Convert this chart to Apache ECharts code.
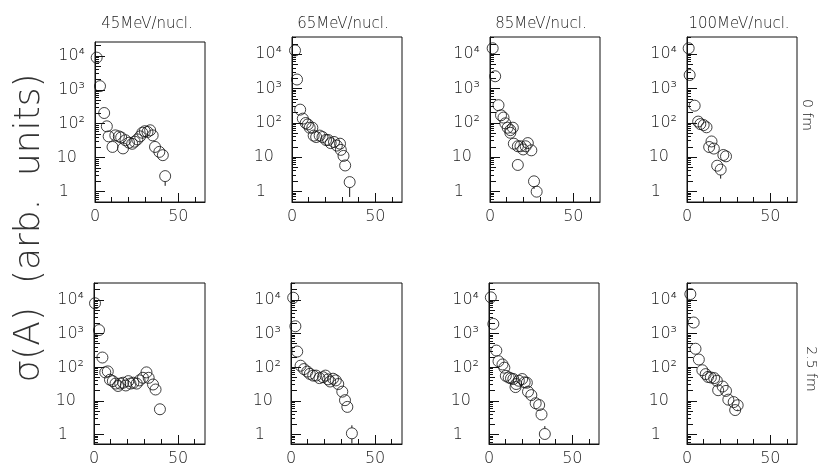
<!DOCTYPE html>
<html><head><meta charset="utf-8">
<script src="https://cdn.jsdelivr.net/npm/echarts@6/dist/echarts.min.js"></script>
<style>html,body{margin:0;padding:0;background:#fff}#c{width:819px;height:467px}</style>
</head><body><div id="c"></div>
<script>
// ---- text / categories ----
const energyTitles = ['45MeV/nucl.', '65MeV/nucl.', '85MeV/nucl.', '100MeV/nucl.'];
const impactTitles = ['0 fm', '2.5 fm'];
const yAxisTitle = 'σ(A)  (arb.  units)';
const xTickLabels = [0, 50];
const xTickValues = [10, 20, 30, 40, 50, 60];
const yTickText = {'0':'1\u2002\u2002', '1':'10\u2002', '2':'10²', '3':'10³', '4':'10⁴'};
const yTickMultipliers = [1, 2, 3, 4, 5, 6, 7, 8, 9];
const yDecadeBases = [0.1, 1, 10, 100, 1000, 10000];

// ---- data: [A, sigma] ----
const d45_0 = [[1.0,9000],[3.0,1300],[5.5,210],[7.1,85],[8.2,43],[10.5,21],[12.2,46],[14.3,43],[15.7,40],[16.8,19],[18.3,33],[20.4,28],[22.3,26],[23.8,30],[25.4,35],[27.1,43],[28.4,55],[29.9,61],[31.5,58],[33.1,65],[34.6,46],[36.0,21],[38.6,15],[40.7,12],[42.1,2.9]];
const d65_0 = [[1.8,13000],[3.0,1850],[4.9,245],[6.5,134],[8.2,100],[9.5,91],[10.6,73],[12.2,73],[13.0,43],[14.5,39],[16.6,43],[18.3,39],[20.4,32],[21.7,32],[23.2,26],[25.2,28],[26.9,22],[28.8,25],[29.3,16.5],[30.9,11],[31.9,5.8],[34.6,1.9]];
const d85_0 = [[1.6,15000],[3.1,2300],[5.1,330],[6.6,168],[8.1,144],[9.2,98],[10.6,73],[12.2,62],[12.2,52],[13.7,73],[14.3,25],[16.7,21],[16.7,6],[18.3,21],[19.9,17],[21.4,21],[22.7,26],[24.8,16],[26.4,2],[28.0,1.0]];
const d100_0 = [[1.0,15000],[1.6,2500],[4.6,320],[6.7,110],[8.0,93],[10.0,87],[11.7,75],[13.3,20],[14.7,29],[16.1,18],[18.1,5.7],[20.2,4.4],[21.8,11.7],[23.4,10.7]];
const d45_25 = [[0.6,8000],[3.0,1280],[5.0,196],[6.7,71],[8.2,76],[9.5,43],[11.2,39],[12.8,33],[14.3,28],[15.6,33],[17.3,35],[18.9,29],[20.4,39],[21.7,33],[23.4,35],[25.4,33],[27.1,41],[29.1,49],[31.2,71],[32.5,49],[35.1,31],[36.6,22],[39.2,5.7]];
const d65_25 = [[1.3,11700],[2.6,1660],[3.7,295],[5.7,112],[7.7,89],[9.7,75],[11.2,64],[13.2,57],[14.9,57],[16.9,48],[19.0,51],[20.5,57],[22.0,44],[23.3,38],[25.0,46],[26.6,41],[28.1,32],[30.5,19],[32.1,10.6],[33.5,6.7],[36.2,1.1]];
const d85_25 = [[1.1,12000],[2.6,1950],[4.4,316],[5.7,152],[8.1,122],[9.2,98],[10.1,56],[11.8,50],[13.2,47],[14.6,45],[15.9,26],[16.3,32],[17.9,40],[19.9,45],[21.4,36],[22.7,35],[23.4,19],[25.4,15],[28.0,8.6],[30.1,7.6],[31.5,4],[33.5,1.05]];
const d100_25 = [[2.0,15000],[4.0,2150],[5.1,357],[7.1,171],[9.2,82],[11.2,63],[12.6,52],[14.3,50],[16.3,48],[17.9,40],[18.7,21],[21.4,27],[23.4,20],[24.8,11],[28.0,9.3],[28.9,5.4],[30.4,7.5]];

// ---- error-bar segments: [A, sigma, bar end] ----
const e45_0 = [[42.1,2.9,1.5]];
const e65_0 = [[34.6,1.9,0.7]];
const e85_0 = [[26.4,2,1.2]];
const e100_0 = [[20.2,4.4,2.4]];
const e45_25 = [[39.2,5.7,4.0]];
const e65_25 = [[36.2,1.1,0.55],[36.2,1.1,1.9]];
const e85_25 = [[33.5,1.05,1.8]];
const e100_25 = [[30.4,7.5,5.6]];

const panelData = [d45_0, d65_0, d85_0, d100_0, d45_25, d65_25, d85_25, d100_25];
const panelErr = [e45_0, e65_0, e85_0, e100_0, e45_25, e65_25, e85_25, e100_25];

// ---- layout ----
const FONT = 'DejaVu Sans';
const INK = '#111111';
const XMAX = 66;
const layout = [
  {left:95,  top:42,  width:110, height:160, ymin:0.5,  ymax:26000},
  {left:292, top:37,  width:110, height:165, ymin:0.5,  ymax:32000},
  {left:490, top:37,  width:110, height:165, ymin:0.5,  ymax:32000},
  {left:687, top:37,  width:110, height:165, ymin:0.5,  ymax:32000},
  {left:94,  top:283, width:111, height:163, ymin:0.53, ymax:32000},
  {left:291, top:283, width:111, height:163, ymin:0.53, ymax:32000},
  {left:489, top:283, width:110, height:163, ymin:0.53, ymax:32000},
  {left:687, top:283, width:110, height:163, ymin:0.53, ymax:32000}
];

function yLabel(v) {
  const k = Math.round(Math.log10(v));
  const p = Math.pow(10, k);
  if (Math.abs(p - v) > 1e-6 * p) return '';
  return yTickText[String(k)] || '';
}

const grids = [], xAxes = [], yAxes = [], series = [];
layout.forEach((L, i) => {
  grids.push({left:L.left, top:L.top, width:L.width, height:L.height, show:true, borderColor:INK, borderWidth:1});
  xAxes.push({
    gridIndex:i, type:'value', min:0, max:XMAX, interval:10,
    axisLine:{show:true, onZero:false, lineStyle:{color:INK}},
    axisTick:{show:false},
    splitLine:{show:false},
    axisLabel:{show:true, margin:7, showMaxLabel:false, color:'#222', fontFamily:FONT, fontWeight:200, fontSize:16,
      formatter: v => (xTickLabels.indexOf(v) >= 0 ? String(v) : '')}
  });
  yAxes.push({
    gridIndex:i, type:'log', logBase:10, min:L.ymin, max:L.ymax,
    axisLine:{show:true, onZero:false, lineStyle:{color:INK}},
    axisTick:{show:false},
    splitLine:{show:false},
    axisLabel:{show:true, margin:10, showMinLabel:false, showMaxLabel:false, formatter:yLabel,
      color:'#222', fontFamily:FONT, fontWeight:200, fontSize:16}
  });
  series.push({
    type:'scatter', xAxisIndex:i, yAxisIndex:i, data:panelData[i], symbol:'circle', symbolSize:11,
    itemStyle:{color:'rgba(0,0,0,0)', borderColor:'#111', borderWidth:1}, z:3, silent:true
  });
  series.push({
    type:'custom', xAxisIndex:i, yAxisIndex:i, data:panelErr[i], silent:true, z:2,
    renderItem:(params, api) => {
      const x = api.value(0);
      const c = api.coord([x, api.value(1)]);
      const e = api.coord([x, api.value(2)]);
      const r = 5.5;
      const start = e[1] > c[1] ? c[1] + r : c[1] - r;
      return {type:'line', shape:{x1:c[0], y1:start, x2:c[0], y2:e[1]}, style:{stroke:'#111', lineWidth:1}};
    }
  });
});

const titleX = [147, 343, 541, 739];
const textGraphics = energyTitles.map((t, i) => ({
  type:'text', x:titleX[i], y:24,
  style:{text:t, fontFamily:FONT, fontWeight:200, fontSize:15, fill:'#222', textAlign:'center', textVerticalAlign:'middle'}
}));
textGraphics.push({type:'text', x:807, y:115, rotation:-Math.PI/2,
  style:{text:impactTitles[0], fontFamily:FONT, fontWeight:200, fontSize:14, fill:'#222', textAlign:'center', textVerticalAlign:'middle'}});
textGraphics.push({type:'text', x:811, y:369, rotation:-Math.PI/2,
  style:{text:impactTitles[1], fontFamily:FONT, fontWeight:200, fontSize:14, fill:'#222', textAlign:'center', textVerticalAlign:'middle'}});
textGraphics.push({type:'text', x:30, y:228, rotation:Math.PI/2,
  style:{text:yAxisTitle, fontFamily:FONT, fontWeight:200, fontSize:36, fill:'#333', textAlign:'center', textVerticalAlign:'middle'}});

const chart = echarts.init(document.getElementById('c'), null, {renderer:'canvas'});
chart.setOption({
  animation:false, backgroundColor:'#fff',
  grid:grids, xAxis:xAxes, yAxis:yAxes, series:series
});

// inward tick marks, positioned through each panel's own axis scales
const tickGraphics = [];
layout.forEach((L, i) => {
  const finder = {xAxisIndex:i, yAxisIndex:i};
  yDecadeBases.forEach(dec => {
    yTickMultipliers.forEach(m => {
      const v = m * dec;
      if (v <= L.ymin || v >= L.ymax) return;
      const p = chart.convertToPixel(finder, [0, v]);
      const len = m === 1 ? 10 : ((m === 2 || m === 5) ? 6 : 4);
      tickGraphics.push({type:'rect', z:100, silent:true,
        shape:{x:Math.round(p[0]), y:Math.floor(p[1]), width:len, height:1}, style:{fill:INK}});
    });
  });
  xTickValues.forEach(t => {
    const p = chart.convertToPixel(finder, [t, L.ymin]);
    const len = t === 50 ? 9 : 5;
    tickGraphics.push({type:'rect', z:100, silent:true,
      shape:{x:Math.floor(p[0]), y:Math.round(p[1]) - len, width:1, height:len}, style:{fill:INK}});
  });
});
chart.setOption({graphic: textGraphics.concat(tickGraphics)});
</script></body></html>
